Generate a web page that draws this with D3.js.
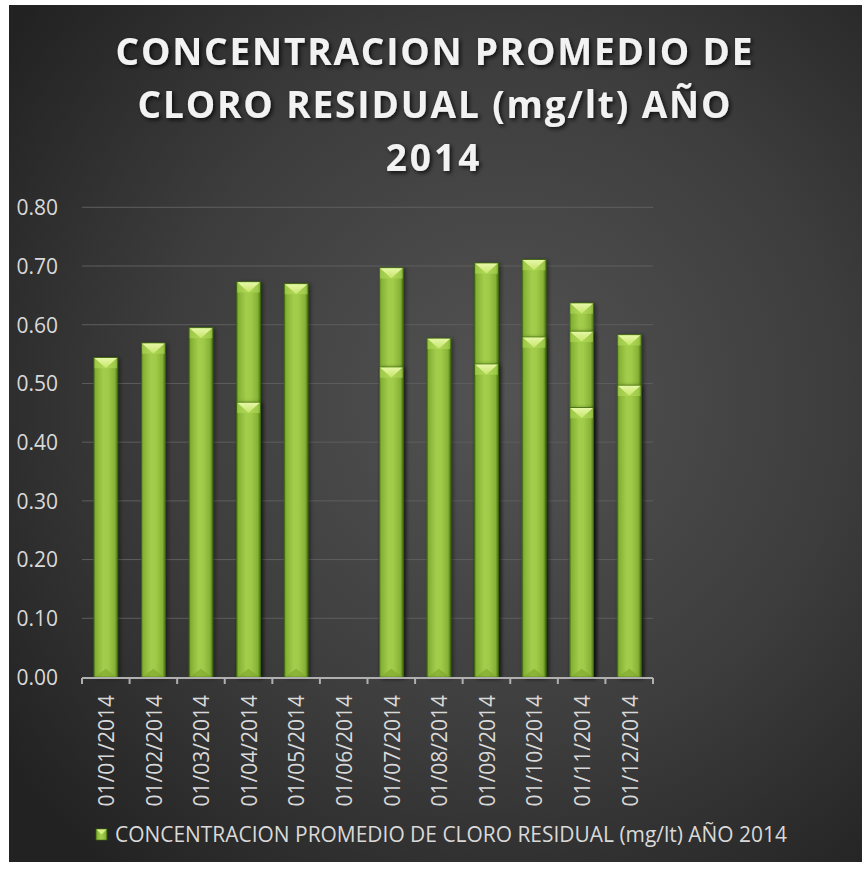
<!DOCTYPE html>
<html>
<head>
<meta charset="utf-8">
<script src="https://cdn.jsdelivr.net/npm/d3@7/dist/d3.min.js"></script>
<style>
  html, body { margin: 0; padding: 0; background: #ffffff; }
  svg { display: block; }
</style>
</head>
<body>
<svg id="chart" width="868" height="871"></svg>
<script>
// ---------- DATA ----------
const categories = ["01/01/2014","01/02/2014","01/03/2014","01/04/2014","01/05/2014","01/06/2014",
                    "01/07/2014","01/08/2014","01/09/2014","01/10/2014","01/11/2014","01/12/2014"];
// Several readings share the same month on the date axis, so their bars overlap.
const readingA = [0.544, 0.569, 0.595, 0.673, 0.670, null, 0.697, 0.577, 0.705, 0.711, 0.637, 0.583];
const readingB = [null,  null,  null,  0.468, null,  null, 0.528, null,  0.533, 0.579, 0.589, 0.497];
const readingC = [null,  null,  null,  null,  null,  null, null,  null,  null,  null,  0.459, null];
const yTicks = [0, 0.1, 0.2, 0.3, 0.4, 0.5, 0.6, 0.7, 0.8];
const titleLines = ["CONCENTRACION PROMEDIO DE", "CLORO RESIDUAL (mg/lt) AÑO", "2014"];
const legendLabel = "CONCENTRACION PROMEDIO DE CLORO RESIDUAL (mg/lt) AÑO 2014";

// ---------- SETUP ----------
const svg = d3.select("#chart");
const defs = svg.append("defs");

const bg = defs.append("radialGradient").attr("id", "bgGrad")
  .attr("cx", "58%").attr("cy", "46%").attr("r", "72%");
bg.append("stop").attr("offset", "0%").attr("stop-color", "#535353");
bg.append("stop").attr("offset", "55%").attr("stop-color", "#3d3d3d");
bg.append("stop").attr("offset", "100%").attr("stop-color", "#222222");

const barGrad = defs.append("linearGradient").attr("id", "barGrad")
  .attr("x1", "0%").attr("x2", "100%").attr("y1", "0%").attr("y2", "0%");
[["0%", "#4d7a16"], ["7%", "#84b033"], ["40%", "#a3cd4c"], ["60%", "#a0ca49"], ["88%", "#86b236"], ["100%", "#4a7514"]]
  .forEach(([o, c]) => barGrad.append("stop").attr("offset", o).attr("stop-color", c));

const capGrad = defs.append("linearGradient").attr("id", "capGrad")
  .attr("x1", "0%").attr("x2", "0%").attr("y1", "0%").attr("y2", "100%");
capGrad.append("stop").attr("offset", "0%").attr("stop-color", "#e6f7a6");
capGrad.append("stop").attr("offset", "100%").attr("stop-color", "#c6e56a");

const shadow = defs.append("filter").attr("id", "barShadow")
  .attr("x", "-30%").attr("y", "-10%").attr("width", "160%").attr("height", "120%");
shadow.append("feDropShadow").attr("dx", 2).attr("dy", 1).attr("stdDeviation", 2)
  .attr("flood-color", "#000").attr("flood-opacity", 0.45);

const tshadow = defs.append("filter").attr("id", "titleShadow")
  .attr("x", "-10%").attr("y", "-30%").attr("width", "120%").attr("height", "160%");
tshadow.append("feDropShadow").attr("dx", 2).attr("dy", 2).attr("stdDeviation", 2)
  .attr("flood-color", "#000").attr("flood-opacity", 0.75);

// Background
svg.append("rect").attr("x", 9).attr("y", 5).attr("width", 853).attr("height", 857)
  .attr("fill", "url(#bgGrad)");

// Scales
const x = d3.scaleBand().domain(categories).range([82, 653]).paddingInner(0.5).paddingOuter(0.25);
const y = d3.scaleLinear().domain([0, 0.8]).range([677, 207.3]);

// Gridlines
svg.append("g").selectAll("line").data(yTicks.filter(t => t > 0)).join("line")
  .attr("x1", 82).attr("x2", 653)
  .attr("y1", d => y(d)).attr("y2", d => y(d))
  .attr("stroke", "#5e5e5e").attr("stroke-width", 1);

// Y axis labels
const yAxis = d3.axisLeft(y).tickValues(yTicks).tickFormat(d3.format(".2f")).tickSize(0).tickPadding(0);
const gy = svg.append("g").attr("transform", "translate(58,0)").call(yAxis);
gy.select(".domain").remove();
gy.selectAll("text").attr("fill", "#d9d9d9").attr("font-family", "'Open Sans', sans-serif")
  .attr("font-size", 21).attr("dy", "0.35em");

// Bars
const layers = [readingA, readingB, readingC];
const barsG = svg.append("g");
const bw = x.bandwidth();
layers.forEach((vals) => {
  const data = vals.map((v, i) => ({ cat: categories[i], v })).filter(d => d.v != null);
  const g = barsG.append("g");
  const bars = g.selectAll("g.bar").data(data).join("g").attr("class", "bar");
  bars.append("rect")
    .attr("x", d => x(d.cat)).attr("y", d => y(d.v))
    .attr("width", bw).attr("height", d => y(0) - y(d.v))
    .attr("fill", "url(#barGrad)").attr("stroke", "#3f6a10").attr("stroke-width", 0.8)
    .attr("filter", "url(#barShadow)");
  // top bevel: light triangle
  bars.append("path")
    .attr("d", d => {
      const x0 = x(d.cat), x1 = x0 + bw, yt = y(d.v), h = bw * 0.45;
      return `M${x0 + 0.5},${yt + 0.5}L${x1 - 0.5},${yt + 0.5}L${(x0 + x1) / 2},${yt + h}Z`;
    })
    .attr("fill", "url(#capGrad)");
  // side facets of the top bevel
  bars.append("path")
    .attr("d", d => {
      const x0 = x(d.cat), x1 = x0 + bw, yt = y(d.v), h = bw * 0.45;
      return `M${x0 + 0.5},${yt + 0.5}L${(x0 + x1) / 2},${yt + h}L${x0 + 0.5},${yt + h}Z` +
             `M${x1 - 0.5},${yt + 0.5}L${(x0 + x1) / 2},${yt + h}L${x1 - 0.5},${yt + h}Z`;
    })
    .attr("fill", "#b5dc5a").attr("opacity", 0.55);
  // faint bottom bevel
  bars.append("path")
    .attr("d", d => {
      const x0 = x(d.cat), x1 = x0 + bw, yb = y(0), h = bw * 0.35;
      return `M${x0 + 1},${yb}L${x1 - 1},${yb}L${(x0 + x1) / 2},${yb - h}Z`;
    })
    .attr("fill", "#7aa52c").attr("opacity", 0.6);
});

// X axis
const xAxisG = svg.append("g").attr("transform", `translate(0,${y(0)})`);
xAxisG.append("line").attr("x1", 82).attr("x2", 653).attr("y1", 1).attr("y2", 1)
  .attr("stroke", "#b0b0b0").attr("stroke-width", 2);
const bStart = 82, bEnd = 653, bStep = (bEnd - bStart) / categories.length;
xAxisG.selectAll("line.tick").data(d3.range(categories.length + 1)).join("line").attr("class", "tick")
  .attr("x1", i => bStart + i * bStep).attr("x2", i => bStart + i * bStep)
  .attr("y1", 1).attr("y2", 7).attr("stroke", "#b0b0b0").attr("stroke-width", 2);
xAxisG.selectAll("text").data(categories).join("text")
  .attr("transform", d => `translate(${x(d) + bw / 2 + 1},18) rotate(-90)`)
  .attr("text-anchor", "end").attr("dy", "0.35em")
  .attr("fill", "#d9d9d9").attr("font-family", "'Open Sans', sans-serif").attr("font-size", 21)
  .text(d => d);

// Title
const titleBase = [65, 118, 171];
const titleLens = [637, 593, 0];
svg.append("g").attr("filter", "url(#titleShadow)")
  .selectAll("text").data(titleLines).join("text")
  .attr("x", 434).attr("y", (d, i) => titleBase[i])
  .attr("text-anchor", "middle")
  .attr("fill", "#f2f2f2").attr("font-family", "'Open Sans', sans-serif")
  .attr("font-weight", 700).attr("font-size", 37)
  .each(function(d, i) {
    if (titleLens[i] > 0) d3.select(this).attr("textLength", titleLens[i]).attr("lengthAdjust", "spacing");
    else d3.select(this).attr("letter-spacing", 3);
  })
  .text(d => d);

// Legend
const lg = svg.append("g");
lg.append("rect").attr("x", 96).attr("y", 829).attr("width", 11).attr("height", 11)
  .attr("fill", "url(#barGrad)").attr("stroke", "#3f6a10").attr("stroke-width", 0.6);
lg.append("path").attr("d", "M96.5,829.5L106.5,829.5L101.5,834.5Z").attr("fill", "#d6ef8a");
lg.append("text").attr("x", 115).attr("y", 842)
  .attr("fill", "#d9d9d9").attr("font-family", "'Open Sans', sans-serif").attr("font-size", 21.5)
  .attr("textLength", 672).attr("lengthAdjust", "spacingAndGlyphs")
  .text(legendLabel);
</script>
</body>
</html>
